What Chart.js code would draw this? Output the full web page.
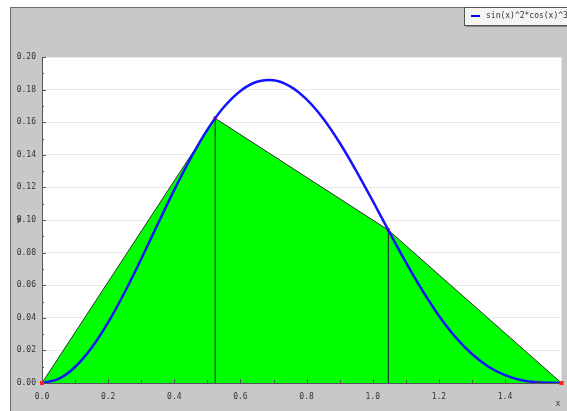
<!DOCTYPE html>
<html>
<head>
<meta charset="utf-8">
<script src="https://cdn.jsdelivr.net/npm/chart.js@4/dist/chart.umd.min.js"></script>
<style>
  html, body { margin: 0; padding: 0; background: #fff; }
  canvas { display: block; }
</style>
</head>
<body>
<canvas id="plot" width="567" height="411"></canvas>
<script>
// curve sin(x)^2*cos(x)^3, values
var curveX = [0, 0.05, 0.1, 0.15, 0.2, 0.25, 0.3, 0.35, 0.4, 0.45, 0.5, 0.55, 0.6, 0.65, 0.7, 0.75,
              0.8, 0.85, 0.9, 0.95, 1.0, 1.05, 1.1, 1.15, 1.2, 1.25, 1.3, 1.35, 1.4, 1.45, 1.5, 1.5708];
var curveY = [0, 0.0025, 0.0098, 0.0216, 0.0372, 0.0557, 0.0761, 0.0975, 0.1185, 0.1381, 0.1554, 0.1693,
              0.1792, 0.1848, 0.1857, 0.1820, 0.1740, 0.1623, 0.1474, 0.1302, 0.1117, 0.0927, 0.0741,
              0.0568, 0.0413, 0.0282, 0.0178, 0.0100, 0.0048, 0.0017, 0.0004, 0];

// green polygon vertices
var polyX = [0, 0.5236, 1.0472, 1.5708];
var polyY = [0, 0.1624, 0.0938, 0];

var xTicks = [0, 0.2, 0.4, 0.6, 0.8, 1.0, 1.2, 1.4];
var yTicks = [0, 0.02, 0.04, 0.06, 0.08, 0.10, 0.12, 0.14, 0.16, 0.18, 0.20];
var legendLabel = "sin(x)^2*cos(x)^3";

var FONT = "8px 'DejaVu Sans Mono'";

function pts(xs, ys) {
    var out = [];
    for (var i = 0; i < xs.length; i++) out.push({x: xs[i], y: ys[i]});
    return out;
}

// vertical lines from the inner vertices down to the axis
var vlines = [];
for (var i = 1; i < polyX.length - 1; i++) {
    vlines.push({
        data: [{x: polyX[i], y: 0}, {x: polyX[i], y: polyY[i]}],
        borderColor: "#222",
        borderWidth: 1,
        pointRadius: 0,
        fill: false,
        order: 1
    });
}

var framePlugin = {
    id: "frame",
    beforeDraw: function (chart) {
        var c = chart.ctx, a = chart.chartArea;
        c.save();
        c.fillStyle = "#fff";
        c.fillRect(0, 0, chart.width, chart.height);
        c.fillStyle = "#c8c8c8";
        c.fillRect(10, 7, chart.width - 10, chart.height - 7);
        c.strokeStyle = "#6e6e6e";
        c.lineWidth = 1;
        c.beginPath();
        c.moveTo(10.5, chart.height);
        c.lineTo(10.5, 7.5);
        c.lineTo(chart.width, 7.5);
        c.stroke();
        c.fillStyle = "#fff";
        c.fillRect(a.left, a.top, a.right - a.left, a.bottom - a.top);
        c.restore();
    },
    afterDraw: function (chart) {
        var c = chart.ctx, a = chart.chartArea;
        var xs = chart.scales.x, ys = chart.scales.y;
        c.save();
        // axes
        c.strokeStyle = "#555";
        c.lineWidth = 1;
        c.beginPath();
        c.moveTo(a.left + 0.5, a.top);
        c.lineTo(a.left + 0.5, a.bottom + 0.5);
        c.lineTo(a.right, a.bottom + 0.5);
        c.stroke();
        // y ticks (inward)
        c.beginPath();
        for (var v = 0; v <= 20; v++) {
            var py = Math.round(ys.getPixelForValue(v / 100)) + 0.5;
            var len = v % 2 === 0 ? 4 : 2;
            c.moveTo(a.left, py);
            c.lineTo(a.left + len, py);
        }
        // x ticks (inward)
        for (var k = 0; k <= 15; k++) {
            var px = Math.round(xs.getPixelForValue(k / 10)) + 0.5;
            var l2 = k % 2 === 0 ? 4 : 3;
            c.moveTo(px, a.bottom);
            c.lineTo(px, a.bottom - l2);
        }
        c.stroke();
        // red vertex markers
        c.fillStyle = "#ff2020";
        for (var m = 0; m < polyX.length; m++) {
            var mx = xs.getPixelForValue(polyX[m]), my = ys.getPixelForValue(polyY[m]);
            if (m === 0 || m === polyX.length - 1) c.fillRect(mx - 2, my - 2, 4, 4);
        }
        // axis titles
        c.fillStyle = "#333";
        c.font = FONT;
        c.textBaseline = "middle";
        c.textAlign = "center";
        c.fillText("y", 19, ys.getPixelForValue(0.10) - 1);
        c.fillText("x", 558, 404);
        // legend box
        var bx = 464, by = 7, bw = 110, bh = 18;
        c.fillStyle = "#8a8a8a";
        c.fillRect(bx + 2, by + 2, bw, bh);
        c.fillStyle = "#f4f4f4";
        c.fillRect(bx, by, bw, bh);
        c.strokeStyle = "#555";
        c.strokeRect(bx + 0.5, by + 0.5, bw, bh);
        c.strokeStyle = "#0000ff";
        c.lineWidth = 2;
        c.beginPath();
        c.moveTo(471, 16);
        c.lineTo(480, 16);
        c.stroke();
        c.fillStyle = "#333";
        c.textAlign = "left";
        c.fillText(legendLabel, 486, 16);
        c.restore();
    }
};

var ctx = document.getElementById("plot").getContext("2d");
var myChart = new Chart(ctx, {
    type: "line",
    data: {
        datasets: [{
            data: pts(curveX, curveY),
            borderColor: "#1414ff",
            borderWidth: 2.5,
            pointRadius: 0,
            fill: false,
            tension: 0.3,
            order: 0
        }].concat(vlines).concat([{
            data: pts(polyX, polyY),
            borderColor: "#333",
            borderWidth: 1,
            backgroundColor: "#00ff00",
            fill: "origin",
            pointStyle: "rect",
            pointRadius: 2.5,
            pointBackgroundColor: "#ff2020",
            pointBorderWidth: 0,
            clip: false,
            order: 2
        }])
    },
    options: {
        responsive: false,
        animation: false,
        devicePixelRatio: 1,
        layout: {padding: {left: 0, top: 57, right: 5.5, bottom: 0}},
        plugins: {legend: {display: false}, tooltip: {enabled: false}},
        scales: {
            x: {
                type: "linear",
                min: 0,
                max: 1.5708,
                afterBuildTicks: function (s) { s.ticks = xTicks.map(function (v) { return {value: v}; }); },
                afterFit: function (s) { s.height = 28; },
                grid: {display: false, drawTicks: false},
                border: {display: false},
                ticks: {
                    padding: 9,
                    maxRotation: 0,
                    autoSkip: false,
                    color: "#333",
                    font: {family: "DejaVu Sans Mono", size: 8},
                    callback: function (v) { return v.toFixed(1); }
                }
            },
            y: {
                type: "linear",
                min: 0,
                max: 0.2,
                afterBuildTicks: function (s) { s.ticks = yTicks.map(function (v) { return {value: v}; }); },
                afterFit: function (s) { s.width = 42; },
                grid: {color: "#e8e8e8", drawTicks: false},
                border: {display: false},
                ticks: {
                    padding: 6,
                    autoSkip: false,
                    color: "#333",
                    font: {family: "DejaVu Sans Mono", size: 8},
                    callback: function (v) { return v.toFixed(2); }
                }
            }
        }
    },
    plugins: [framePlugin]
});
</script>
</body>
</html>
